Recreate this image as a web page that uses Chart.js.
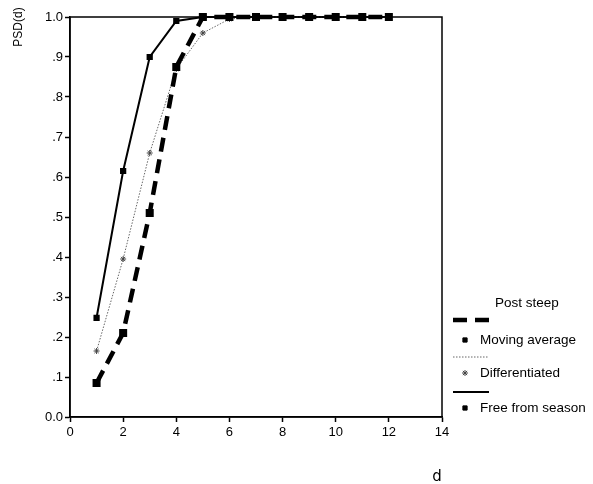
<!DOCTYPE html>
<html>
<head>
<meta charset="utf-8">
<script src="https://cdn.jsdelivr.net/npm/chart.js@4.4.0/dist/chart.umd.min.js"></script>
<style>
html,body{margin:0;padding:0;background:#fff;}
#wrap{position:relative;width:593px;height:484px;}
canvas{display:block;}
</style>
</head>
<body>
<div id="wrap"><canvas id="c" width="593" height="484"></canvas></div>
<script>
const dValues = [1,2,3,4,5,6,7,8,9,10,11,12];
const movingAverage = [0.085,0.21,0.51,0.875,1.0,1.0,1.0,1.0,1.0,1.0,1.0,1.0];
const differentiated = [0.165,0.395,0.66,0.87,0.96,0.995,1.0,1.0,1.0,1.0,1.0,1.0];
const freeFromSeason = [0.248,0.615,0.90,0.99,1.0,1.0,1.0,1.0,1.0,1.0,1.0,1.0];
const xTicks = [0,2,4,6,8,10,12,14];
const yTickLabels = ['0.0','.1','.2','.3','.4','.5','.6','.7','.8','.9','1.0'];
const seriesNames = ['Moving average','Differentiated','Free from season'];
const legendTitle = 'Post steep';
const yTitle = 'PSD(d)';
const xTitle = 'd';

const toPts = arr => dValues.map((x,i)=>({x:x,y:arr[i]}));
const FONT = '"Liberation Sans", Arial, Helvetica, sans-serif';

const frame = {
  id:'frame',
  afterDatasetsDraw(chart){
    const {ctx, chartArea:a} = chart;
    ctx.save();
    ctx.strokeStyle='#000'; ctx.lineWidth=1.5;
    ctx.strokeRect(a.left, a.top, a.right-a.left, a.bottom-a.top);
    ctx.restore();
  },
  afterDraw(chart){
    const ctx = chart.ctx;
    const ds = chart.data.datasets;
    ctx.save();
    ctx.fillStyle='#000';
    ctx.textBaseline='middle';
    // y title
    ctx.save();
    ctx.translate(19, 27);
    ctx.rotate(-Math.PI/2);
    ctx.textAlign='center';
    ctx.font = '12px '+FONT;
    ctx.fillText(yTitle, 0, 0);
    ctx.restore();
    // x title
    ctx.textAlign='center';
    ctx.font = '15px "DejaVu Sans", '+FONT;
    ctx.fillText(xTitle, 437, 477);
    // legend
    ctx.textAlign='left';
    ctx.font = '13.5px '+FONT;
    ctx.fillText(legendTitle, 495, 303);
    const rows = [
      {lineY:320, markY:340},
      {lineY:357, markY:373},
      {lineY:392, markY:408}
    ];
    rows.forEach((r,i)=>{
      const d = ds[i];
      ctx.save();
      ctx.strokeStyle = d.borderColor;
      ctx.lineWidth = d.borderWidth;
      ctx.setLineDash(d.borderDash || []);
      ctx.beginPath(); ctx.moveTo(453, r.lineY); ctx.lineTo(489, r.lineY); ctx.stroke();
      ctx.restore();
      ctx.save();
      ctx.setLineDash([]);
      ctx.fillStyle = d.pointBackgroundColor;
      ctx.strokeStyle = d.pointBorderColor;
      ctx.lineWidth = 1;
      Chart.helpers.drawPoint(ctx, {pointStyle:d.pointStyle, radius:3, rotation:0, borderWidth:1}, 465, r.markY);
      ctx.restore();
      ctx.fillStyle='#000';
      ctx.fillText(seriesNames[i], 480, r.markY);
    });
    ctx.restore();
  }
};

new Chart(document.getElementById('c'), {
  type:'line',
  data:{
    datasets:[
      {label:seriesNames[0], data:toPts(movingAverage), borderColor:'#000', borderWidth:4.5, borderDash:[14,8],
       pointStyle:'rect', pointRadius:2.5, pointBackgroundColor:'#000', pointBorderColor:'#000', tension:0},
      {label:seriesNames[1], data:toPts(differentiated), borderColor:'#666', borderWidth:1, borderDash:[1.5,1.5],
       pointStyle:'star', pointRadius:3, pointBackgroundColor:'#fff', pointBorderColor:'#444', tension:0},
      {label:seriesNames[2], data:toPts(freeFromSeason), borderColor:'#000', borderWidth:2,
       pointStyle:'rect', pointRadius:3, pointBackgroundColor:'#000', pointBorderColor:'#000', tension:0}
    ]
  },
  plugins:[frame],
  options:{
    responsive:false, animation:false, devicePixelRatio:1,
    clip:false,
    layout:{padding:{left:0, top:17, right:151, bottom:0}},
    plugins:{legend:{display:false}, tooltip:{enabled:false}},
    scales:{
      x:{type:'linear', min:0, max:14,
        afterFit(s){ s.height = 67; },
        afterBuildTicks(s){ s.ticks = xTicks.map(v=>({value:v})); },
        grid:{display:true, drawOnChartArea:false, drawTicks:true, tickLength:5, tickColor:'#000', tickWidth:1.5},
        border:{display:true, color:'#000', width:1.5},
        ticks:{color:'#000', font:{family:FONT, size:13}, padding:3, maxRotation:0, autoSkip:false}
      },
      y:{type:'linear', min:0, max:1,
        afterFit(s){ s.width = 70; },
        afterBuildTicks(s){ s.ticks = yTickLabels.map((t,i)=>({value:i/10})); },
        grid:{display:true, drawOnChartArea:false, drawTicks:true, tickLength:5, tickColor:'#000', tickWidth:1.5},
        border:{display:true, color:'#000', width:1.5},
        ticks:{color:'#000', font:{family:FONT, size:13}, padding:2, autoSkip:false,
          callback:(v,i)=>yTickLabels[Math.round(v*10)]}
      }
    }
  }
});
</script>
</body>
</html>
